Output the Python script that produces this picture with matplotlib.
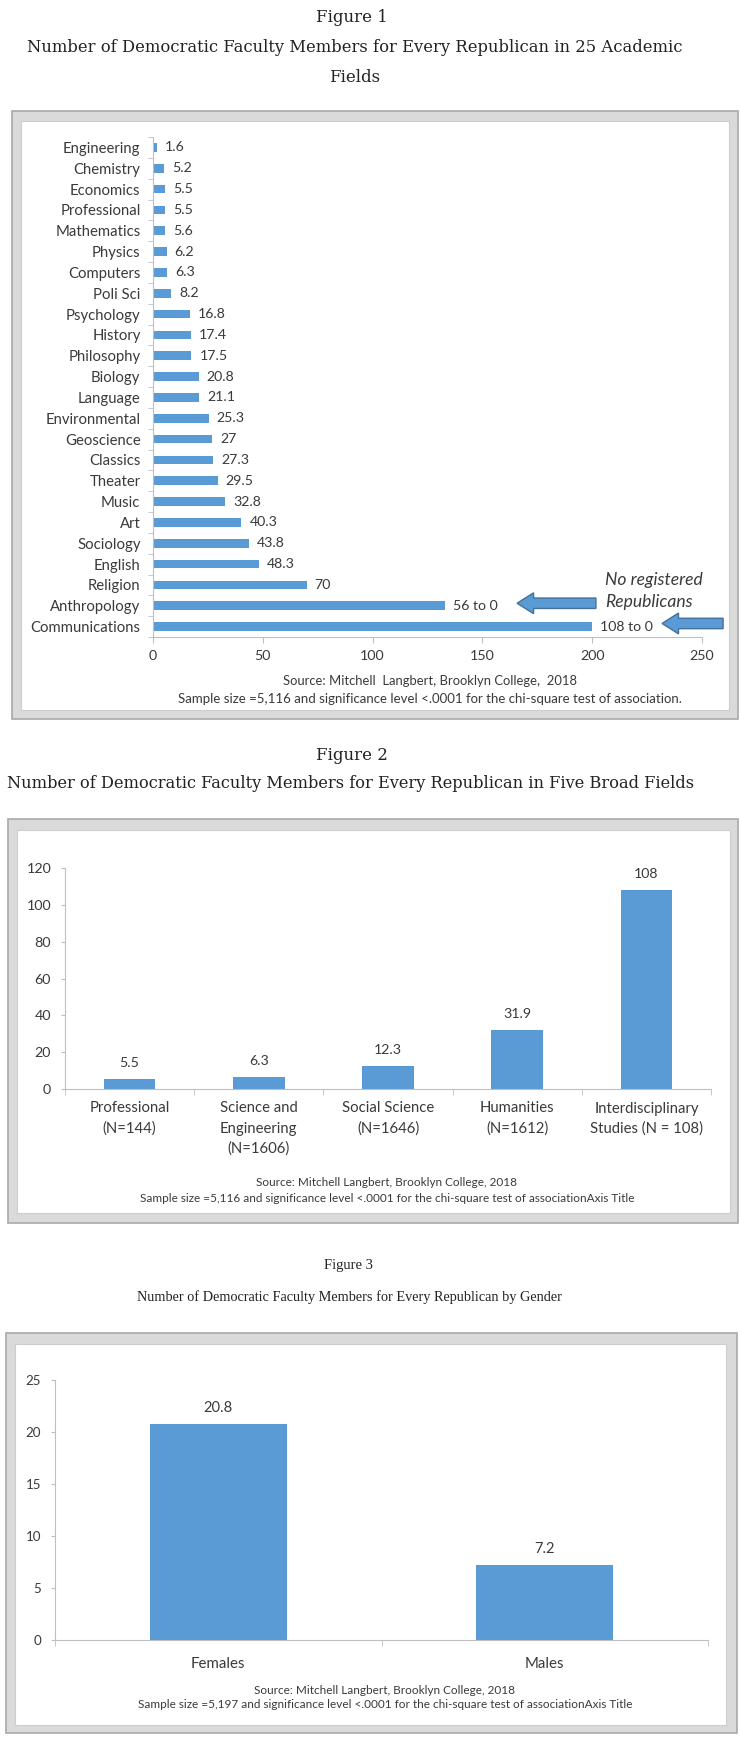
import matplotlib
matplotlib.use("Agg")
import matplotlib.pyplot as plt
from matplotlib.patches import Rectangle, FancyArrow

# ---------------------------------------------------------------------------
# Data
# ---------------------------------------------------------------------------
fields = [
    "Engineering", "Chemistry", "Economics", "Professional", "Mathematics",
    "Physics", "Computers", "Poli Sci", "Psychology", "History", "Philosophy",
    "Biology", "Language", "Environmental", "Geoscience", "Classics",
    "Theater", "Music", "Art", "Sociology", "English", "Religion",
    "Anthropology", "Communications",
]
field_ratios = [1.6, 5.2, 5.5, 5.5, 5.6, 6.2, 6.3, 8.2, 16.8, 17.4, 17.5,
                20.8, 21.1, 25.3, 27, 27.3, 29.5, 32.8, 40.3, 43.8, 48.3, 70,
                133, 200]
field_labels = [f"{v:g}" for v in field_ratios[:-2]] + ["56 to 0", "108 to 0"]
field_ticks = [0, 50, 100, 150, 200, 250]

broad_fields = ["Professional\n(N=144)", "Science and\nEngineering\n(N=1606)",
                "Social Science\n(N=1646)", "Humanities\n(N=1612)",
                "Interdisciplinary\nStudies (N = 108)"]
broad_ratios = [5.5, 6.3, 12.3, 31.9, 108]
broad_ticks = [0, 20, 40, 60, 80, 100, 120]

genders = ["Females", "Males"]
gender_ratios = [20.8, 7.2]
gender_ticks = [0, 5, 10, 15, 20, 25]

BLUE = "#5b9bd5"
AXIS = "#bfbfbf"
TXT = "#3a3a3a"
SANS = "Lato"
SERIF = "DejaVu Serif"

W, H = 740, 1738
fig = plt.figure(figsize=(W / 100, H / 100), dpi=100)
fig.patch.set_facecolor("white")
renderer = fig.canvas.get_renderer()


def size_for(s, target_px, family=SANS, **kw):
    """Font size that makes string s about target_px wide."""
    t = fig.text(0, 0, s, fontsize=10, family=family, **kw)
    w = t.get_window_extent(renderer).width
    t.remove()
    return 10 * target_px / w


def px_axes(x0, y0, x1, y1):
    return fig.add_axes([x0 / W, 1 - y1 / H, (x1 - x0) / W, (y1 - y0) / H])


def frame(outer, inner):
    x0, y0, x1, y1 = outer
    fig.add_artist(Rectangle((x0 / W, 1 - y1 / H), (x1 - x0) / W, (y1 - y0) / H,
                             transform=fig.transFigure, fc="#dadada",
                             ec="#a9a9a9", lw=1.2, zorder=0))
    x0, y0, x1, y1 = inner
    fig.add_artist(Rectangle((x0 / W, 1 - y1 / H), (x1 - x0) / W, (y1 - y0) / H,
                             transform=fig.transFigure, fc="white",
                             ec="#cdcdcd", lw=0.8, zorder=0))


def ftext(x, y, s, width=None, **kw):
    t = fig.text(x / W, 1 - y / H, s, ha="center", va="center", **kw)
    if width:
        w = t.get_window_extent(renderer).width
        t.set_fontsize(t.get_fontsize() * width / w)
    return t


def style_axes(ax):
    for s in ("top", "right"):
        ax.spines[s].set_visible(False)
    for s in ("left", "bottom"):
        ax.spines[s].set_color(AXIS)
    ax.set_facecolor("none")


# ---------------------------------------------------------------------------
# Figure 1
# ---------------------------------------------------------------------------
ftext(352, 17, "Figure 1", family=SERIF, fontsize=12, color="#222222")
ftext(355, 47, "Number of Democratic Faculty Members for Every Republican in 25 Academic",
      width=652, family=SERIF, fontsize=12, color="#222222")
ftext(355, 77, "Fields", family=SERIF, fontsize=12, color="#222222")
frame((12, 111, 738, 719), (21, 121, 729, 710))

fs_cat = size_for("Communications", 110)
fs_tick = size_for("250", 25)
fs_val = size_for("108 to 0", 53)
fs_note = size_for("No registered", 98, style="italic")

ax1 = px_axes(153, 137, 702, 637)
style_axes(ax1)
ypos = list(range(len(fields)))
ax1.barh(ypos, field_ratios, height=0.42, color=BLUE)
ax1.set_xlim(0, 250)
ax1.set_ylim(len(fields) - 0.5, -0.5)
ax1.set_yticks(ypos)
ax1.set_yticklabels(fields, fontsize=fs_cat, color=TXT, family=SANS)
ax1.set_yticks([i - 0.5 for i in range(len(fields) + 1)], minor=True)
ax1.tick_params(axis="y", which="major", length=0, pad=9)
ax1.tick_params(axis="y", which="minor", length=3.5, color=AXIS)
ax1.set_xticks(field_ticks)
ax1.set_xticklabels([str(t) for t in field_ticks], fontsize=fs_tick, color=TXT, family=SANS)
ax1.tick_params(axis="x", length=4, color=AXIS, pad=5)
for y, v, lab in zip(ypos, field_ratios, field_labels):
    ax1.annotate(lab, (v, y), xytext=(8, 0), textcoords="offset pixels",
                 ha="left", va="center", fontsize=fs_val, color=TXT, family=SANS)

# "No registered Republicans" arrows
arrows = [(201.7, 21.88, -35.9), (259.6, 22.85, -27.8)]
for x, y, dx in arrows:
    ax1.add_patch(FancyArrow(x, y, dx, 0, width=0.5, head_width=1.0,
                             head_length=7.5, length_includes_head=True,
                             fc=BLUE, ec="#41719c", lw=1, clip_on=False))
ax1.text(205.8, 20.75, "No registered", fontsize=fs_note, style="italic",
         color=TXT, family=SANS, ha="left", va="center")
ax1.text(205.8, 21.8, "Republicans", fontsize=fs_note, style="italic",
         color=TXT, family=SANS, ha="left", va="center")

ftext(430, 681, "Source: Mitchell  Langbert, Brooklyn College,  2018", width=294,
      family=SANS, fontsize=8, color=TXT)
ftext(430, 699, "Sample size =5,116 and significance level <.0001 for the chi-square test of association.",
      width=507, family=SANS, fontsize=8, color=TXT)

# ---------------------------------------------------------------------------
# Figure 2
# ---------------------------------------------------------------------------
ftext(352, 755, "Figure 2", family=SERIF, fontsize=12, color="#222222")
ftext(351, 784, "Number of Democratic Faculty Members for Every Republican in Five Broad Fields",
      width=689, family=SERIF, fontsize=12, color="#222222")
frame((8, 819, 738, 1223), (17, 830, 730, 1213))

fs_cat2 = size_for("Interdisciplinary", 105)
fs_tick2 = size_for("120", 25)
fs_val2 = size_for("108", 24.6)

ax2 = px_axes(65, 868, 711, 1089)
style_axes(ax2)
xpos = list(range(len(broad_fields)))
ax2.bar(xpos, broad_ratios, width=0.4, color=BLUE)
ax2.set_xlim(-0.5, len(broad_fields) - 0.5)
ax2.set_ylim(0, 120)
ax2.set_yticks(broad_ticks)
ax2.set_yticklabels([str(t) for t in broad_ticks], fontsize=fs_tick2, color=TXT, family=SANS)
ax2.tick_params(axis="y", length=3, color=AXIS, pad=7)
ax2.set_xticks(xpos)
ax2.set_xticklabels(broad_fields, fontsize=fs_cat2, color=TXT, family=SANS,
                    linespacing=1.55, va="top")
ax2.set_xticks([i - 0.5 for i in range(len(broad_fields) + 1)], minor=True)
ax2.tick_params(axis="x", which="major", length=0, pad=9)
ax2.tick_params(axis="x", which="minor", length=4, color=AXIS)
for x, v in zip(xpos, broad_ratios):
    ax2.annotate(f"{v:g}", (x, v), xytext=(0, 16), textcoords="offset pixels",
                 ha="center", va="center", fontsize=fs_val2, color=TXT, family=SANS)

ftext(387, 1182, "Source: Mitchell Langbert, Brooklyn College, 2018", width=261,
      family=SANS, fontsize=8, color=TXT)
ftext(387, 1198, "Sample size =5,116 and significance level <.0001 for the chi-square test of associationAxis Title",
      width=494, family=SANS, fontsize=8, color=TXT)

# ---------------------------------------------------------------------------
# Figure 3
# ---------------------------------------------------------------------------
ftext(349, 1266, "Figure 3", family="Liberation Serif", fontsize=10.5, color="#222222")
ftext(349, 1297, "Number of Democratic Faculty Members for Every Republican by Gender",
      width=424, family="Liberation Serif", fontsize=10.5, color="#222222")
frame((6, 1333, 737, 1733), (15, 1344, 726, 1725))

fs_cat3 = size_for("Females", 54)
fs_tick3 = size_for("25", 15.6)
fs_val3 = size_for("20.8", 29)

ax3 = px_axes(55, 1380, 708, 1640)
style_axes(ax3)
gpos = list(range(len(genders)))
ax3.bar(gpos, gender_ratios, width=0.42, color=BLUE)
ax3.set_xlim(-0.5, len(genders) - 0.5)
ax3.set_ylim(0, 25)
ax3.set_yticks(gender_ticks)
ax3.set_yticklabels([str(t) for t in gender_ticks], fontsize=fs_tick3, color=TXT, family=SANS)
ax3.tick_params(axis="y", length=3, color=AXIS, pad=7)
ax3.set_xticks(gpos)
ax3.set_xticklabels(genders, fontsize=fs_cat3, color=TXT, family=SANS)
ax3.set_xticks([i - 0.5 for i in range(len(genders) + 1)], minor=True)
ax3.tick_params(axis="x", which="major", length=0, pad=12)
ax3.tick_params(axis="x", which="minor", length=4, color=AXIS)
for x, v in zip(gpos, gender_ratios):
    ax3.annotate(f"{v:g}", (x, v), xytext=(0, 16), textcoords="offset pixels",
                 ha="center", va="center", fontsize=fs_val3, color=TXT, family=SANS)

ftext(385, 1690, "Source: Mitchell Langbert, Brooklyn College, 2018", width=262,
      family=SANS, fontsize=8, color=TXT)
ftext(385, 1705, "Sample size =5,197 and significance level <.0001 for the chi-square test of associationAxis Title",
      width=493, family=SANS, fontsize=8, color=TXT)

fig.savefig("out.png", dpi=100)
